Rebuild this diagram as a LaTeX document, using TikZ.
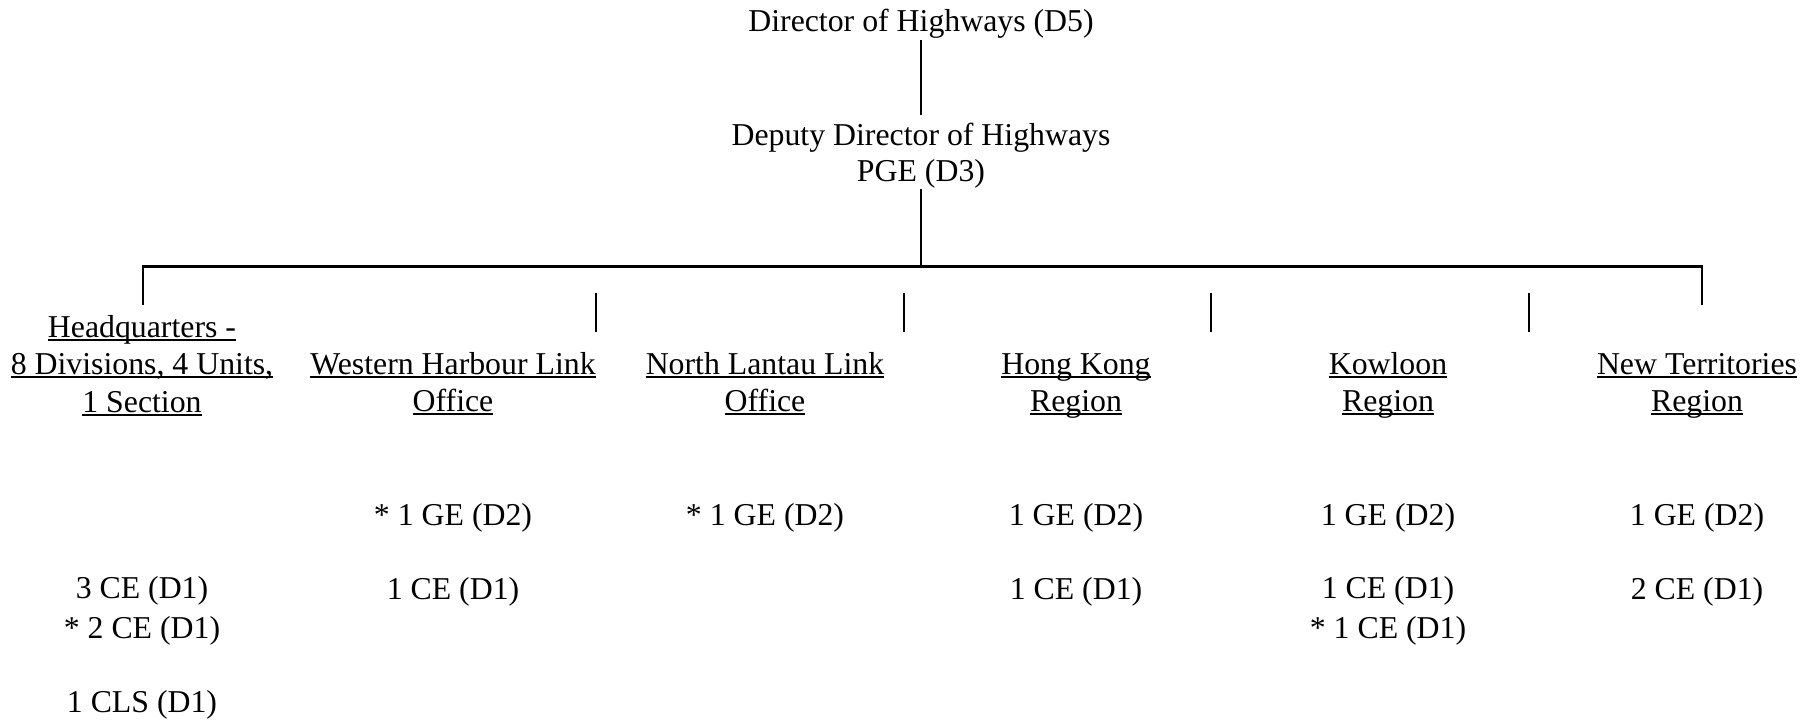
\documentclass[tikz,border=0pt]{standalone}
\usepackage{fontspec}
\setmainfont{Liberation Serif}
\newcommand{\myul}[1]{\setbox0\hbox{#1}\rlap{\rule[-3.7pt]{\wd0}{2.2pt}}\box0}
\newcommand{\topstrut}{\rule{0pt}{25pt}}
\begin{document}
\begin{tikzpicture}[x=1pt,y=-1pt,
  lbl/.style={inner sep=0pt,anchor=base,align=center,font=\fontsize{31.8pt}{40pt}\selectfont},
  mlbl/.style={lbl,anchor=north},
  hdr/.style={mlbl,font=\fontsize{31.8pt}{37.5pt}\selectfont},
  thinline/.style={line width=1.3pt},
  barline/.style={line width=3pt},
  tickline/.style={line width=2pt}]
\useasboundingbox (0,0) rectangle (1808,722);
% top (multi-line nodes: north = first baseline - 25)
\node[lbl] (d5) at (921,32) {Director of Highways (D5)};
\node[mlbl,font=\fontsize{31.8pt}{36.7pt}\selectfont] (dd) at (921,120) {\topstrut Deputy Director of Highways\\PGE (D3)};
% column headers
\node[hdr] (hq) at (142,312) {\topstrut\myul{Headquarters -}\\\myul{8 Divisions, 4 Units,}\\\myul{1 Section}};
\node[hdr] (whl) at (453,349) {\topstrut\myul{Western Harbour Link}\\\myul{Office}};
\node[hdr] (nll) at (765,349) {\topstrut\myul{North Lantau Link}\\\myul{Office}};
\node[hdr] (hk) at (1076,349) {\topstrut\myul{Hong Kong}\\\myul{Region}};
\node[hdr] (kln) at (1388,349) {\topstrut\myul{Kowloon}\\\myul{Region}};
\node[hdr] (nt) at (1697,349) {\topstrut\myul{New Territories}\\\myul{Region}};
% staff
\node[mlbl] (hqce) at (142,573) {\topstrut 3 CE (D1)\\* 2 CE (D1)};
\node[lbl] (hqcls) at (142,712) {1 CLS (D1)};
\node[lbl] (whlge) at (453,525) {* 1 GE (D2)};
\node[lbl] (whlce) at (453,599) {1 CE (D1)};
\node[lbl] (nllge) at (765,525) {* 1 GE (D2)};
\node[lbl] (hkge) at (1076,525) {1 GE (D2)};
\node[lbl] (hkce) at (1076,599) {1 CE (D1)};
\node[lbl] (klnge) at (1388,525) {1 GE (D2)};
\node[mlbl] (klnce) at (1388,573) {\topstrut 1 CE (D1)\\* 1 CE (D1)};
\node[lbl] (ntge) at (1697,525) {1 GE (D2)};
\node[lbl] (ntce) at (1697,599) {2 CE (D1)};
% coordinates
\coordinate (barmid) at (921,267);
\coordinate (barl) at (143,267);
\coordinate (barr) at (1702,267);
\coordinate (dropl) at (143,305);
\coordinate (dropr) at (1702,305);
\coordinate (t1a) at (596,293); \coordinate (t1b) at (596,332);
\coordinate (t2a) at (904,293); \coordinate (t2b) at (904,332);
\coordinate (t3a) at (1211,293); \coordinate (t3b) at (1211,332);
\coordinate (t4a) at (1529,293); \coordinate (t4b) at (1529,332);
% connectors
\draw[thinline] ([yshift=-1pt]d5.south) -- ([yshift=5pt]dd.north);
\draw[thinline] (dd.south) -- (barmid);
\draw[barline] (barl) -- (barr);
\draw[tickline] ([yshift=1.5pt]barl) -- (dropl);
\draw[tickline] ([yshift=1.5pt]barr) -- (dropr);
\draw[tickline] (t1a) -- (t1b);
\draw[tickline] (t2a) -- (t2b);
\draw[tickline] (t3a) -- (t3b);
\draw[tickline] (t4a) -- (t4b);
\end{tikzpicture}
\end{document}
